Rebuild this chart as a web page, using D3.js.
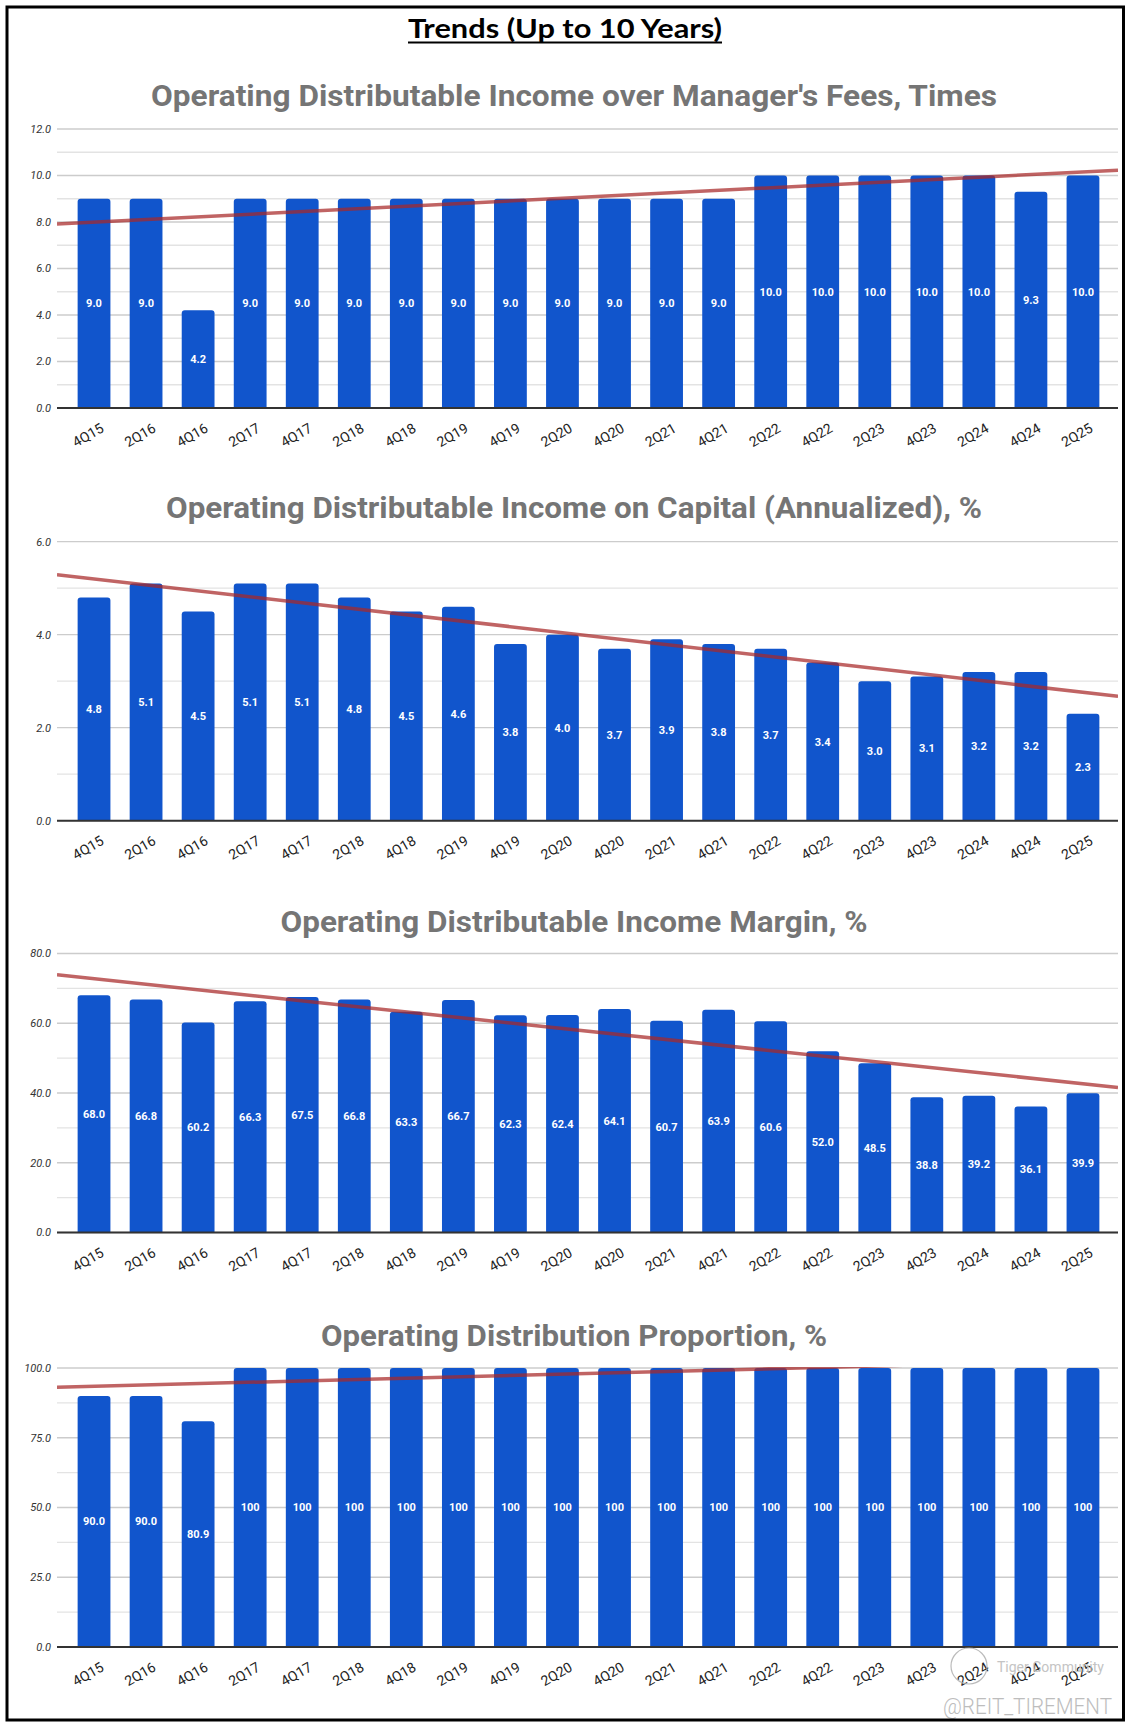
<!DOCTYPE html>
<html>
<head>
<meta charset="utf-8">
<script src="https://cdn.jsdelivr.net/npm/d3@7"></script>
<style>
html,body{margin:0;padding:0;background:#fff;}
svg{display:block;}
</style>
</head>
<body>
<svg id="chart" width="1133" height="1729"></svg>
<script>
// ---------------- DATA ----------------
const categories = ["4Q15","2Q16","4Q16","2Q17","4Q17","2Q18","4Q18","2Q19","4Q19","2Q20",
                    "4Q20","2Q21","4Q21","2Q22","4Q22","2Q23","4Q23","2Q24","4Q24","2Q25"];

const feesTimes   = [9.0,9.0,4.2,9.0,9.0,9.0,9.0,9.0,9.0,9.0,9.0,9.0,9.0,10.0,10.0,10.0,10.0,10.0,9.3,10.0];
const incomeOnCap = [4.8,5.1,4.5,5.1,5.1,4.8,4.5,4.6,3.8,4.0,3.7,3.9,3.8,3.7,3.4,3.0,3.1,3.2,3.2,2.3];
const incomeMargin= [68.0,66.8,60.2,66.3,67.5,66.8,63.3,66.7,62.3,62.4,64.1,60.7,63.9,60.6,52.0,48.5,38.8,39.2,36.1,39.9];
const distProp    = [90.0,90.0,80.9,100,100,100,100,100,100,100,100,100,100,100,100,100,100,100,100,100];

const titles = [
  "Operating Distributable Income over Manager's Fees, Times",
  "Operating Distributable Income on Capital (Annualized), %",
  "Operating Distributable Income Margin, %",
  "Operating Distribution Proportion, %"
];
const yTicks1 = [0,2,4,6,8,10,12];
const yTicks2 = [0,2,4,6];
const yTicks3 = [0,20,40,60,80];
const yTicks4 = [0,25,50,75,100];
const gridStep = [1, 1, 10, 12.5];

const mainTitle = "Trends (Up to 10 Years)";

// ---------------- LAYOUT ----------------
const svg = d3.select("#chart");
const W = 1133, H = 1729;
const plotLeft = 57, plotRight = 1118;
const plotH = 279;
const plotTops = [129, 541.7, 953.5, 1368];
const titleBase = [106, 518, 931.5, 1346];
const titleWidths = [846, 816, 587, 506];
const titleCx = 574;

svg.append("rect").attr("x",0).attr("y",0).attr("width",W).attr("height",H).attr("fill","#fff");

// main title
svg.append("text")
  .attr("x", 565).attr("y", 38)
  .attr("text-anchor","middle")
  .attr("font-family","Lato, 'Open Sans', sans-serif")
  .attr("font-weight","bold")
  .attr("font-size", 26)
  .attr("fill","#000")
  .attr("textLength", 314)
  .attr("lengthAdjust","spacingAndGlyphs")
  .text(mainTitle);
svg.append("line").attr("x1",408).attr("x2",722).attr("y1",42.5).attr("y2",42.5)
  .attr("stroke","#000").attr("stroke-width",2);

const x = d3.scaleBand().domain(categories).range([68, 1109]).paddingInner(0.37).paddingOuter(0.185);
const step = x.step();
const c0 = x(categories[0]) + x.bandwidth()/2;

const datasets = [
  {values: feesTimes,    max: 12,  ticks: yTicks1, fmt: d3.format(".1f")},
  {values: incomeOnCap,  max: 6,   ticks: yTicks2, fmt: d3.format(".1f")},
  {values: incomeMargin, max: 80,  ticks: yTicks3, fmt: d3.format(".1f")},
  {values: distProp,     max: 100, ticks: yTicks4, fmt: d => d >= 100 ? d3.format("d")(d) : d3.format(".1f")(d)}
];

function topRounded(x0, y0, w, h, r) {
  r = Math.min(r, h, w/2);
  return `M${x0},${y0+h}V${y0+r}Q${x0},${y0} ${x0+r},${y0}H${x0+w-r}Q${x0+w},${y0} ${x0+w},${y0+r}V${y0+h}Z`;
}

datasets.forEach((ds, k) => {
  const top = plotTops[k], bottom = top + plotH;
  const y = d3.scaleLinear().domain([0, ds.max]).range([bottom, top]);
  const g = svg.append("g");

  // title
  g.append("text")
    .attr("x", titleCx).attr("y", titleBase[k])
    .attr("text-anchor","middle")
    .attr("font-family","Roboto, sans-serif")
    .attr("font-weight","bold")
    .attr("font-size", 30)
    .attr("fill","#757575")
    .attr("textLength", titleWidths[k])
    .attr("lengthAdjust","spacingAndGlyphs")
    .text(titles[k]);

  // gridlines
  const grid = d3.range(0, ds.max + 1e-9, gridStep[k]);
  g.selectAll("line.grid").data(grid).enter().append("line")
    .attr("x1", plotLeft).attr("x2", plotRight)
    .attr("y1", d => y(d)).attr("y2", d => y(d))
    .attr("stroke", d => ds.ticks.some(t => Math.abs(t-d) < 1e-9) ? "#cccccc" : "#e3e3e3")
    .attr("stroke-width", 1.3);

  // y tick labels
  g.selectAll("text.yt").data(ds.ticks).enter().append("text")
    .attr("x", 51).attr("y", d => y(d))
    .attr("dy","0.35em")
    .attr("text-anchor","end")
    .attr("font-family","Roboto, sans-serif")
    .attr("font-style","italic")
    .attr("font-size", 11)
    .attr("fill","#333")
    .text(d => d3.format(".1f")(d));

  // bars
  g.selectAll("path.bar").data(ds.values).enter().append("path")
    .attr("d", (d,i) => topRounded(x(categories[i]), y(d), x.bandwidth(), bottom - y(d), 3))
    .attr("fill","#1155cc");

  // bar labels
  g.selectAll("text.bl").data(ds.values).enter().append("text")
    .attr("x", (d,i) => x(categories[i]) + x.bandwidth()/2)
    .attr("y", d => (y(d) + bottom)/2)
    .attr("dy","0.35em")
    .attr("text-anchor","middle")
    .attr("font-family","Roboto, sans-serif")
    .attr("font-weight","bold")
    .attr("font-size", 11)
    .attr("fill","#fff")
    .text(d => ds.fmt(d));

  // baseline
  g.append("line").attr("x1", plotLeft).attr("x2", plotRight)
    .attr("y1", bottom).attr("y2", bottom)
    .attr("stroke","#333").attr("stroke-width",2);

  // x labels
  g.selectAll("text.xl").data(categories).enter().append("text")
    .attr("transform", d => `translate(${x(d) + x.bandwidth()/2 - 6},${bottom + 27}) rotate(-30)`)
    .attr("text-anchor","middle")
    .attr("dy","0.35em")
    .attr("font-family","Roboto, sans-serif")
    .attr("font-size", 14)
    .attr("fill","#222")
    .text(d => d);

  // trendline (linear regression on category index)
  const n = ds.values.length;
  const xm = d3.mean(d3.range(n)), ym = d3.mean(ds.values);
  let sxy = 0, sxx = 0;
  ds.values.forEach((v,i) => { sxy += (i-xm)*(v-ym); sxx += (i-xm)*(i-xm); });
  const slope = sxy/sxx, icpt = ym - slope*xm;
  const pxToIdx = px => (px - c0)/step;
  const clipId = "clip"+k;
  svg.append("clipPath").attr("id", clipId).append("rect")
    .attr("x", plotLeft).attr("y", top - 1).attr("width", plotRight - plotLeft).attr("height", plotH + 1);
  const pts = [plotLeft, plotRight].map(px => [px, y(icpt + slope*pxToIdx(px))]);
  g.append("path")
    .attr("clip-path", `url(#${clipId})`)
    .attr("d", d3.line()(pts))
    .attr("stroke","#a82828")
    .attr("stroke-opacity",0.72)
    .attr("stroke-width",3.5)
    .attr("fill","none");
});

// watermark
svg.append("circle").attr("cx", 969).attr("cy", 1666).attr("r", 18)
  .attr("fill","none").attr("stroke","#aaa").attr("stroke-width",1.2).attr("opacity",0.8);
svg.append("text").attr("x", 997).attr("y", 1672)
  .attr("font-family","Roboto, sans-serif").attr("font-size", 14)
  .attr("fill","#c4c4c4").text("Tiger Community");
svg.append("text").attr("x", 943).attr("y", 1714)
  .attr("font-family","Roboto, sans-serif").attr("font-weight", 300).attr("font-size", 22)
  .attr("fill","#bdbdbd")
  .attr("textLength", 169).attr("lengthAdjust","spacingAndGlyphs")
  .text("@REIT_TIREMENT");

// border
svg.append("rect").attr("x",7).attr("y",7).attr("width",1116.5).attr("height",1713)
  .attr("fill","none").attr("stroke","#000").attr("stroke-width",3);
</script>
</body>
</html>
